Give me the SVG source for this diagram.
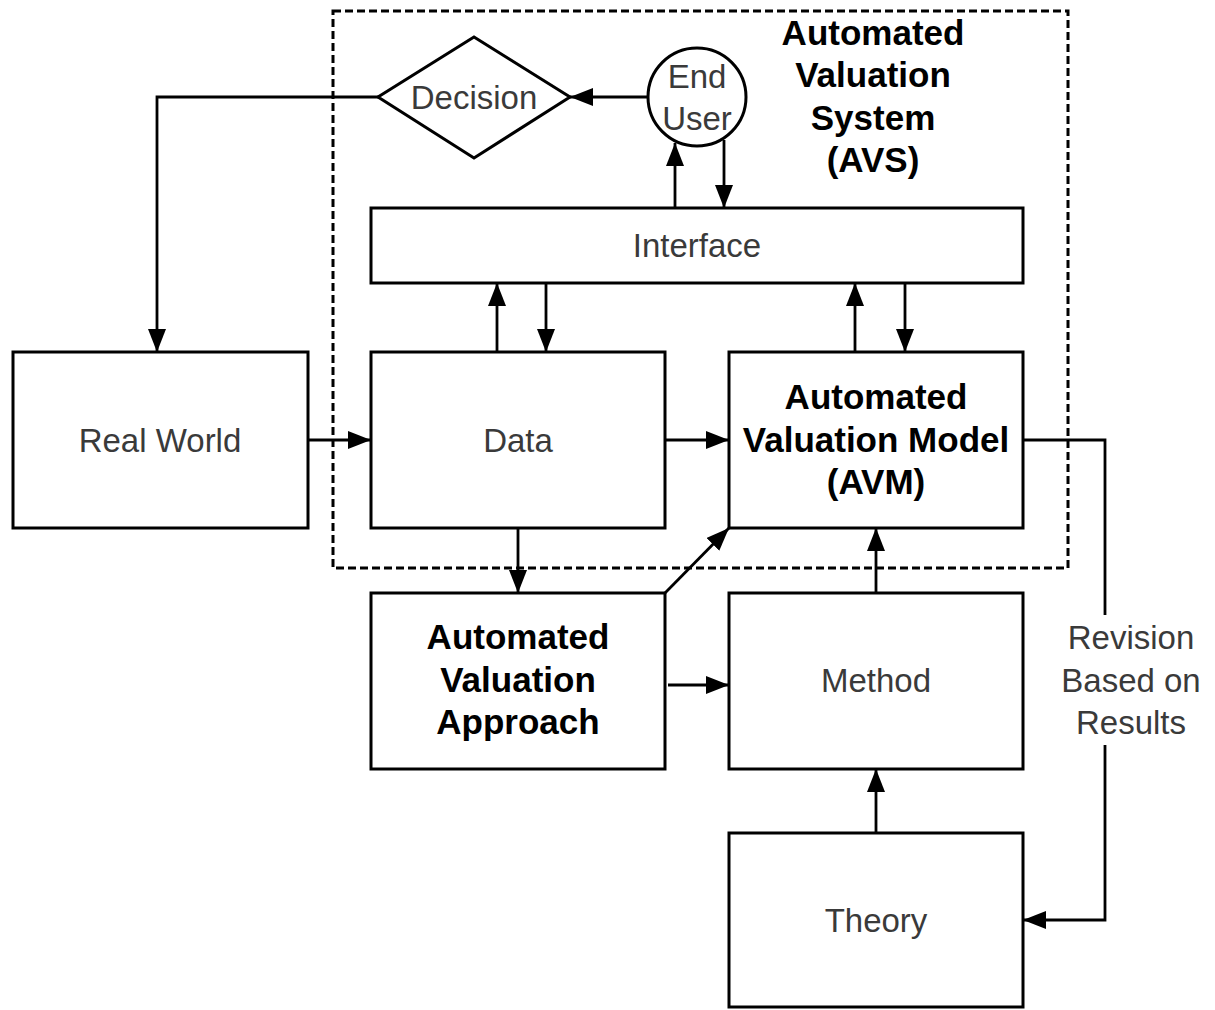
<svg xmlns="http://www.w3.org/2000/svg" width="1215" height="1010" viewBox="0 0 1215 1010">
<style>
.box{fill:#fff;stroke:#000;stroke-width:3}
.ln{fill:none;stroke:#000;stroke-width:2.8}
.arr{marker-end:url(#ah)}
.t{font-family:"Liberation Sans",Arial,sans-serif;font-size:33px;fill:#3a3a3a;text-anchor:middle}
.b{font-family:"Liberation Sans",Arial,sans-serif;font-size:35px;font-weight:bold;fill:#000;text-anchor:middle}
</style>
<defs>
<marker id="ah" markerUnits="userSpaceOnUse" markerWidth="26" markerHeight="20" refX="23" refY="9" orient="auto">
<path d="M0,0 L23,9 L0,18 z" fill="#000"/>
</marker>
</defs>
<rect width="1215" height="1010" fill="#fff"/>
<g id="avs-boundary">
<rect x="333" y="11" width="735" height="557" fill="none" stroke="#000" stroke-width="3" stroke-dasharray="8,4"/>
<text class="b" x="873" y="45">Automated</text>
<text class="b" x="873" y="87">Valuation</text>
<text class="b" x="873" y="130">System</text>
<text class="b" x="873" y="172">(AVS)</text>
</g>
<g id="connectors">
<path class="ln arr" d="M647,97 L570,97"/>
<path class="ln arr" d="M378,97 L157,97 L157,352"/>
<path class="ln arr" d="M675,208 L675,143"/>
<path class="ln arr" d="M724,140 L724,208"/>
<path class="ln arr" d="M497,352 L497,283"/>
<path class="ln arr" d="M546,283 L546,352"/>
<path class="ln arr" d="M855,352 L855,283"/>
<path class="ln arr" d="M905,283 L905,352"/>
<path class="ln arr" d="M308,440 L371,440"/>
<path class="ln arr" d="M665,440 L729,440"/>
<path class="ln arr" d="M518,528 L518,593"/>
<path class="ln arr" d="M665,593 L729,528"/>
<path class="ln arr" d="M668,685 L729,685"/>
<path class="ln arr" d="M876,593 L876,528"/>
<path class="ln arr" d="M876,833 L876,769"/>
<path class="ln" d="M1023,440 L1105,440 L1105,615"/>
<path class="ln arr" d="M1105,745 L1105,920 L1023,920"/>
<text class="t" x="1131" y="649">Revision</text>
<text class="t" x="1131" y="692">Based on</text>
<text class="t" x="1131" y="734">Results</text>
</g>
<g id="decision">
<polygon class="box" points="474,37 570,97 474,158 378,97"/>
<text class="t" x="474" y="109">Decision</text>
</g>
<g id="end-user">
<circle class="box" cx="697" cy="97" r="49"/>
<text class="t" x="697" y="88">End</text>
<text class="t" x="697" y="130">User</text>
</g>
<g id="interface">
<rect class="box" x="371" y="208" width="652" height="75"/>
<text class="t" x="697" y="257">Interface</text>
</g>
<g id="real-world">
<rect class="box" x="13" y="352" width="295" height="176"/>
<text class="t" x="160" y="452">Real World</text>
</g>
<g id="data">
<rect class="box" x="371" y="352" width="294" height="176"/>
<text class="t" x="518" y="452">Data</text>
</g>
<g id="avm">
<rect class="box" x="729" y="352" width="294" height="176"/>
<text class="b" x="876" y="409">Automated</text>
<text class="b" x="876" y="452">Valuation Model</text>
<text class="b" x="876" y="494">(AVM)</text>
</g>
<g id="ava">
<rect class="box" x="371" y="593" width="294" height="176"/>
<text class="b" x="518" y="649">Automated</text>
<text class="b" x="518" y="692">Valuation</text>
<text class="b" x="518" y="734">Approach</text>
</g>
<g id="method">
<rect class="box" x="729" y="593" width="294" height="176"/>
<text class="t" x="876" y="692">Method</text>
</g>
<g id="theory">
<rect class="box" x="729" y="833" width="294" height="174"/>
<text class="t" x="876" y="932">Theory</text>
</g>
</svg>
